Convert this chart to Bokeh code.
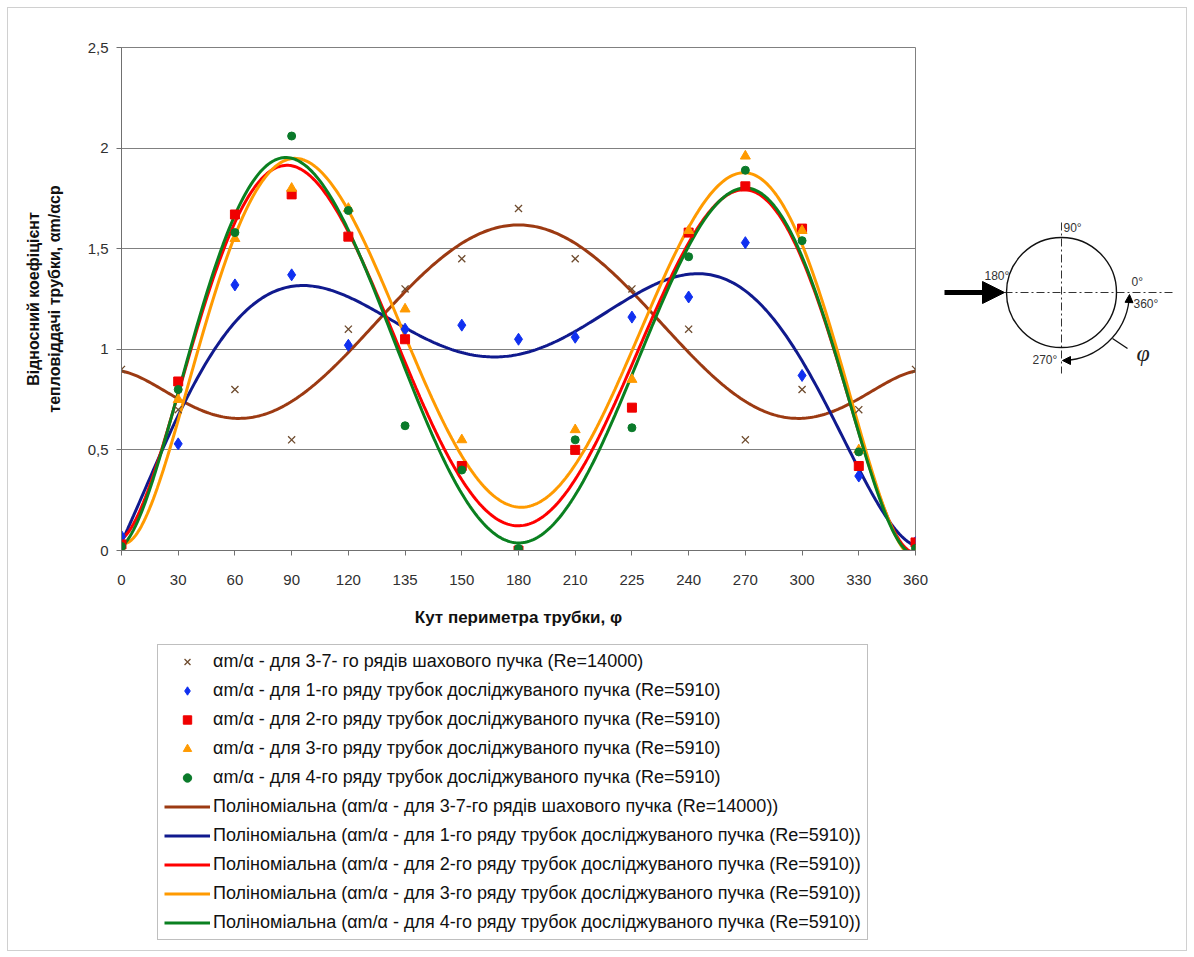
import numpy as np
from bokeh.plotting import figure
from bokeh.models import (Range1d, FixedTicker, Legend, LegendItem, Label, Arrow,
                          NormalHead, ColumnDataSource)
from bokeh.layouts import row, column
from bokeh.embed import file_html
from bokeh.resources import INLINE

# ---------------- data ----------------
angles = ["0", "30", "60", "90", "120", "135", "150", "180", "210", "225", "240", "270", "300", "330", "360"]
chess_3_7 = [0.90, 0.70, 0.80, 0.55, 1.10, 1.30, 1.45, 1.70, 1.45, 1.30, 1.10, 0.55, 0.80, 0.70, 0.90]
row1 = [0.07, 0.53, 1.32, 1.37, 1.02, 1.10, 1.12, 1.05, 1.06, 1.16, 1.26, 1.53, 0.87, 0.37, 0.04]
row2 = [0.03, 0.84, 1.67, 1.77, 1.56, 1.05, 0.42, 0.00, 0.50, 0.71, 1.58, 1.81, 1.60, 0.42, 0.04]
row3 = [0.00, 0.75, 1.55, 1.80, 1.70, 1.20, 0.55, 0.00, 0.60, 0.85, 1.59, 1.96, 1.59, 0.50, 0.00]
row4 = [0.02, 0.80, 1.58, 2.06, 1.69, 0.62, 0.40, 0.01, 0.55, 0.61, 1.46, 1.89, 1.54, 0.49, 0.01]

y_ticks = [0, 0.5, 1, 1.5, 2, 2.5]
y_tick_labels = ["0", "0,5", "1", "1,5", "2", "2,5"]

scatter_labels = [
    "αm/α - для 3-7- го рядів шахового пучка (Re=14000)",
    "αm/α - для 1-го ряду трубок досліджуваного пучка (Re=5910)",
    "αm/α - для 2-го ряду трубок досліджуваного пучка (Re=5910)",
    "αm/α - для 3-го ряду трубок досліджуваного пучка (Re=5910)",
    "αm/α - для 4-го ряду трубок досліджуваного пучка (Re=5910)",
]
trend_labels = [
    "Поліноміальна (αm/α - для 3-7-го рядів шахового пучка (Re=14000))",
    "Поліноміальна (αm/α - для 1-го ряду трубок досліджуваного пучка (Re=5910))",
    "Поліноміальна (αm/α - для 2-го ряду трубок досліджуваного пучка (Re=5910))",
    "Поліноміальна (αm/α - для 3-го ряду трубок досліджуваного пучка (Re=5910))",
    "Поліноміальна (αm/α - для 4-го ряду трубок досліджуваного пучка (Re=5910))",
]

series = [chess_3_7, row1, row2, row3, row4]
markers = ["x", "diamond", "square", "triangle", "circle"]
marker_colors = ["#6E4B2E", "#1030F0", "#F00000", "#FF9A00", "#0A7A2A"]
marker_sizes = [10, 12, 9, 10, 8]
legend_marker_sizes = [9, 10, 7, 8, 6]
line_colors = ["#9C3A12", "#101A8E", "#FF0000", "#FF9A00", "#0A8020"]

FONT = "Liberation Sans"

# ---------------- main chart ----------------
p = figure(frame_width=794, frame_height=503, x_range=Range1d(0, 14), y_range=Range1d(0, 2.5),
           output_backend="svg", toolbar_location=None,
           min_border_left=113, min_border_right=23, min_border_top=39, min_border_bottom=80)
p.outline_line_color = "#808080"
p.xgrid.visible = False
p.ygrid.ticker = FixedTicker(ticks=y_ticks)
p.ygrid.grid_line_color = "#808080"

idx = np.arange(len(angles))
p.xaxis.ticker = FixedTicker(ticks=list(idx))
p.xaxis.major_label_overrides = {int(i): a for i, a in zip(idx, angles)}
p.yaxis.ticker = FixedTicker(ticks=y_ticks)
p.yaxis.major_label_overrides = {t: l for t, l in zip(y_ticks, y_tick_labels)}

for ax in (p.xaxis, p.yaxis):
    ax.axis_line_color = "#707070"
    ax.major_tick_line_color = "#707070"
    ax.major_tick_out = 5
    ax.major_tick_in = 0
    ax.minor_tick_out = 0
    ax.minor_tick_in = 0
    ax.major_label_text_font = FONT
    ax.major_label_text_font_size = "15px"
    ax.major_label_text_color = "#303030"
    ax.axis_label_text_font = FONT
    ax.axis_label_text_font_style = "bold"
    ax.axis_label_text_color = "#111111"

p.xaxis.major_label_standoff = 19
p.xaxis.axis_label = "Кут периметра трубки, φ"
p.xaxis.axis_label_text_font_size = "17px"
p.xaxis.axis_label_standoff = 20
p.yaxis.major_label_standoff = 8
p.yaxis.axis_label = "Відносний коефіцієнт\nтепловіддачі трубки, αm/αср"
p.yaxis.axis_label_text_font_size = "16px"
p.yaxis.axis_label_standoff = 22

xs_fine = np.linspace(0, 14, 400)
for vals, lc in zip(series, line_colors):
    coef = np.polyfit(idx, vals, 6)
    p.line(xs_fine, np.polyval(coef, xs_fine), line_color=lc, line_width=3)

for vals, m, mc, ms in zip(series, markers, marker_colors, marker_sizes):
    src = ColumnDataSource(dict(x=idx, y=vals))
    if m == "x":
        p.scatter("x", "y", source=src, marker=m, size=ms, line_color=mc, line_width=1.3)
    else:
        p.scatter("x", "y", source=src, marker=m, size=ms, fill_color=mc, line_color=mc)

# ---------------- legend panel (own figure, same frame columns as the chart) ----------------
# the legend proxies carry the same series data, plotted on a range where they stay out of view
lf = figure(frame_width=794, frame_height=320, x_range=Range1d(100, 101), y_range=Range1d(100, 101),
            output_backend="svg", toolbar_location=None,
            min_border_left=113, min_border_right=271, min_border_top=0, min_border_bottom=0,
            x_axis_type=None, y_axis_type=None)
lf.outline_line_color = None
lf.grid.visible = False

items = []
for lab, vals, m, mc, ms in zip(scatter_labels, series, markers, marker_colors, legend_marker_sizes):
    if m == "x":
        r = lf.scatter(x=idx, y=vals, marker=m, size=ms, line_color=mc, line_width=1.3)
    else:
        r = lf.scatter(x=idx, y=vals, marker=m, size=ms, fill_color=mc, line_color=mc)
    items.append(LegendItem(label=lab, renderers=[r]))
for lab, vals, lc in zip(trend_labels, series, line_colors):
    r = lf.line(x=idx, y=vals, line_color=lc, line_width=3)
    items.append(LegendItem(label=lab, renderers=[r]))

legend = Legend(items=items, location=(36, 10))
legend.border_line_color = "#808080"
legend.border_line_width = 1
legend.background_fill_color = "white"
legend.label_text_font = FONT
legend.label_text_font_size = "18px"
legend.label_text_color = "#111111"
legend.glyph_width = 46
legend.glyph_height = 21
legend.label_height = 21
legend.spacing = 8
legend.padding = 6
legend.margin = 0
legend.label_standoff = 3
lf.add_layout(legend)

# ---------------- flow diagram ----------------
# local coordinates: origin at the circle centre, 1 unit = 1 px
d = figure(frame_width=248, frame_height=503, x_range=Range1d(-123, 125), y_range=Range1d(-258, 245),
           output_backend="svg", toolbar_location=None, min_border=0, min_border_top=39,
           min_border_bottom=80, x_axis_type=None, y_axis_type=None)
d.outline_line_color = None
d.grid.visible = False

d.segment(x0=[-57, 0], y0=[0, 70], x1=[111, 0], y1=[0, -81], line_color="#333333",
          line_width=1, line_dash="8 3 2 3")
d.circle(x=[0], y=[0], radius=55, fill_color=None, line_color="#111111", line_width=1.4)
d.add_layout(Arrow(x_start=-117, y_start=0, x_end=-57, y_end=0, line_width=5,
                   line_color="black",
                   end=NormalHead(size=22, fill_color="black", line_color="black")))
d.arc(x=[0], y=[0], radius=68, start_angle=np.deg2rad(-88), end_angle=np.deg2rad(-6),
      direction="anticlock", line_color="#111111", line_width=1.3)
d.add_layout(Arrow(x_start=67.5, y_start=-10, x_end=68, y_end=-2, line_width=1.3,
                   end=NormalHead(size=8, fill_color="black", line_color="black")))
d.add_layout(Arrow(x_start=8, y_start=-68, x_end=1, y_end=-68, line_width=1.3,
                   end=NormalHead(size=8, fill_color="black", line_color="black")))
d.segment(x0=[51], y0=[-46], x1=[66], y1=[-56], line_color="#111111", line_width=1.3)

for txt, x, y in [("90°", 2, 65), ("180°", -77, 17), ("0°", 70, 11),
                  ("360°", 72, -11), ("270°", -29, -67)]:
    d.add_layout(Label(x=x, y=y, text=txt, text_font=FONT, text_font_size="12px",
                       text_color="#333333", text_baseline="middle"))
d.add_layout(Label(x=75, y=-60, text="φ", text_font="Liberation Serif",
                   text_font_style="italic", text_font_size="24px",
                   text_color="#222222", text_baseline="middle"))

layout = column(row(p, d), lf, margin=(7, 0, 0, 7), styles={"border": "1px solid #d0d0d0"})
open("out.html", "w").write(file_html(layout, INLINE))
